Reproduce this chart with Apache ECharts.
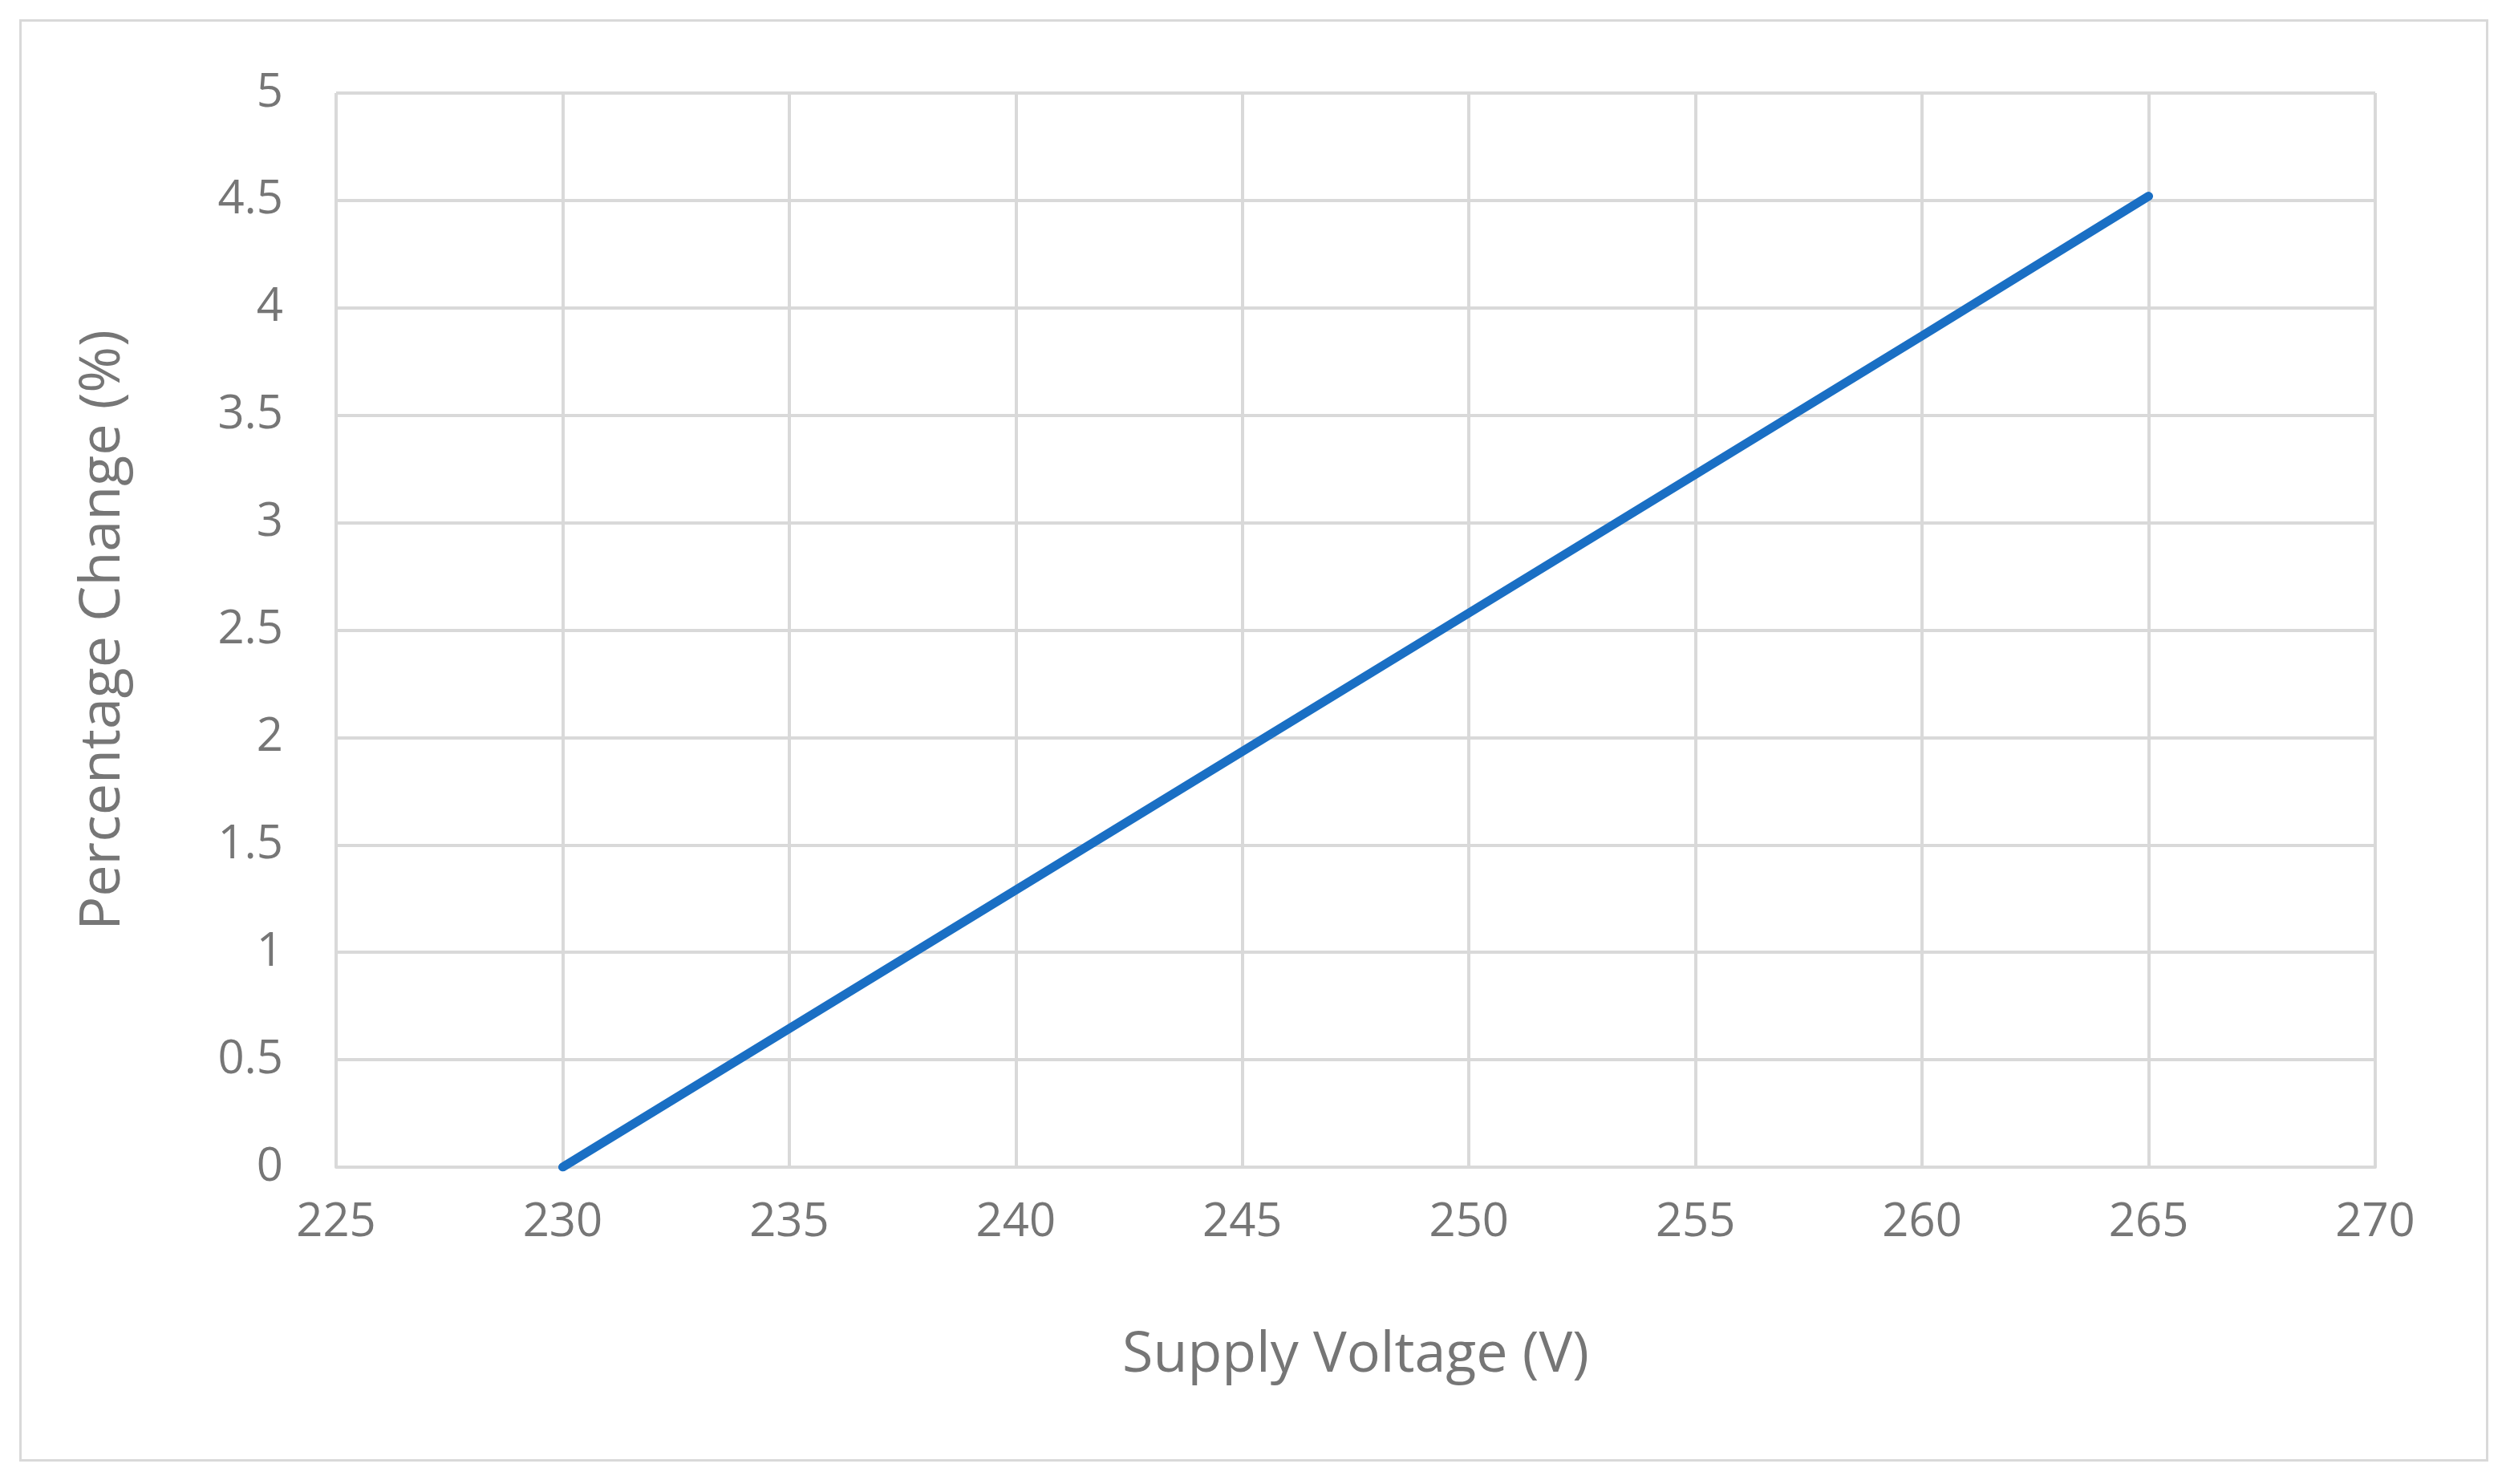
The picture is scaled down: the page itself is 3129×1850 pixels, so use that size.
<!DOCTYPE html>
<html><head><meta charset="utf-8">
<script src="https://cdn.jsdelivr.net/npm/echarts@6/dist/echarts.min.js"></script>
<style>html,body{margin:0;padding:0;background:#fff}#c{width:3129px;height:1850px}
#f{position:absolute;left:24px;top:24px;width:3078px;height:1798px;border:3px solid #d9d9d9;box-sizing:border-box}</style>
</head><body><div id="f"></div><div id="c"></div>
<script>
const voltages=[230,235,240,245,250,255,260,265];
const pctChange=[0,0.645,1.29,1.935,2.58,3.225,3.87,4.52];
const xTitle='Supply Voltage (V)';
const yTitle='Percentage Change (%)';
const chart=echarts.init(document.getElementById('c'));
const font='Open Sans';
const grey='#767676';
chart.setOption({
 animation:false,
 grid:{left:419,right:168,top:116,bottom:395},
 xAxis:{type:'value',min:225,max:270,interval:5,name:xTitle,nameLocation:'middle',nameGap:200,
  nameTextStyle:{fontFamily:font,fontSize:70,color:grey},
  axisLabel:{fontFamily:font,fontSize:58,color:grey,margin:40},
  axisLine:{show:true,lineStyle:{color:'#d9d9d9',width:4}},axisTick:{show:false},
  splitLine:{lineStyle:{color:'#d9d9d9',width:4}}},
 yAxis:{type:'value',min:0,max:5,interval:0.5,name:yTitle,nameLocation:'middle',nameGap:255,
  nameTextStyle:{fontFamily:font,fontSize:70,color:grey},
  axisLabel:{fontFamily:font,fontSize:58,color:grey,margin:66},
  axisLine:{show:false},axisTick:{show:false},
  splitLine:{lineStyle:{color:'#d9d9d9',width:4}}},
 series:[{type:'line',data:voltages.map((v,i)=>[v,pctChange[i]]),showSymbol:false,
  lineStyle:{color:'#1a6fc4',width:11,cap:'round'}}]
});
</script></body></html>
